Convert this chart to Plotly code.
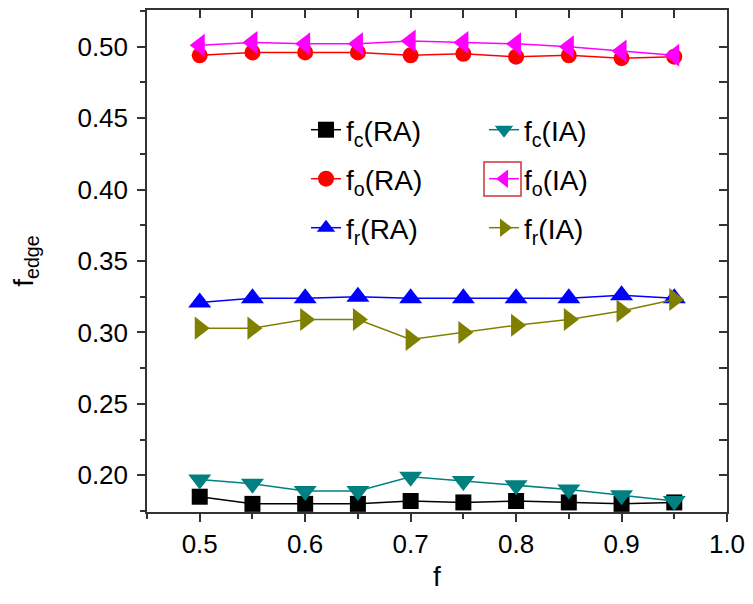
import plotly.graph_objects as go

# Fraction f on the x axis
f = [0.50, 0.55, 0.60, 0.65, 0.70, 0.75, 0.80, 0.85, 0.90, 0.95]

# Edge fractions for the RA and IA cases
fc_RA = [0.185, 0.180, 0.180, 0.180, 0.182, 0.181, 0.182, 0.181, 0.180, 0.181]
fc_IA = [0.197, 0.194, 0.189, 0.189, 0.199, 0.196, 0.193, 0.190, 0.186, 0.182]
fo_RA = [0.494, 0.496, 0.496, 0.496, 0.494, 0.495, 0.493, 0.494, 0.492, 0.493]
fo_IA = [0.501, 0.503, 0.502, 0.502, 0.504, 0.503, 0.502, 0.500, 0.497, 0.494]
fr_RA = [0.321, 0.324, 0.324, 0.325, 0.324, 0.324, 0.324, 0.324, 0.326, 0.324]
fr_IA = [0.303, 0.303, 0.309, 0.309, 0.295, 0.300, 0.305, 0.309, 0.315, 0.323]

names = ["f<sub>c</sub>(RA)", "f<sub>c</sub>(IA)",
         "f<sub>o</sub>(RA)", "f<sub>o</sub>(IA)",
         "f<sub>r</sub>(RA)", "f<sub>r</sub>(IA)"]
series = [fc_RA, fc_IA, fo_RA, fo_IA, fr_RA, fr_IA]
colors = ["#000000", "#008080", "#FF0000", "#FF00FF", "#0000FF", "#808000"]
symbols = ["square", "triangle-down", "circle", "triangle-left", "triangle-up", "triangle-right"]
sizes = [16, 20, 16, 20, 20, 20]
legends = ["legend", "legend", "legend2", "legend2", "legend3", "legend3"]

X_RANGE = [0.45, 1.0]
Y_RANGE = [0.1743, 0.5257]
FONT = "Liberation Sans, Arial, sans-serif"

fig = go.Figure()
for name, ys, c, s, sz, lg in zip(names, series, colors, symbols, sizes, legends):
    fig.add_trace(go.Scatter(
        x=f, y=ys, name=name, mode="lines+markers",
        line=dict(color=c, width=1.5),
        marker=dict(symbol=s, size=sz, color=c, line=dict(width=0)),
        legend=lg,
    ))

# Empty trace so the top/right frame axes (inward ticks) get drawn
fig.add_trace(go.Scatter(x=[], y=[], xaxis="x2", yaxis="y2",
                         showlegend=False, hoverinfo="skip"))

W, H = 753, 604
ML, MR, MT, MB = 147, 26, 10, 92
PW, PH = W - ML - MR, H - MT - MB


def px_x(px):
    return (px - ML) / PW


def px_y(py):
    return (H - MB - py) / PH


leg_common = dict(orientation="h", xanchor="left", yanchor="middle",
                  bgcolor="rgba(0,0,0,0)", borderwidth=0,
                  font=dict(family=FONT, size=28, color="black"),
                  entrywidth=133, entrywidthmode="pixels")

axis_common = dict(showgrid=False, zeroline=False, showline=True,
                   linecolor="#333333", linewidth=1.5, automargin=False,
                   tickcolor="#333333", tickwidth=1.5, ticklen=8,
                   tickfont=dict(family=FONT, size=26, color="black"))

fig.update_layout(
    width=W, height=H,
    margin=dict(l=ML, r=MR, t=MT, b=MB),
    paper_bgcolor="white", plot_bgcolor="white",
    showlegend=True,
    legend=dict(x=px_x(306), y=px_y(130), **leg_common),
    legend2=dict(x=px_x(306), y=px_y(179), **leg_common),
    legend3=dict(x=px_x(306), y=px_y(228), **leg_common),
    xaxis=dict(range=X_RANGE, dtick=0.1, tick0=0.5, ticks="outside",
               tickformat=".1f", ticklabelstandoff=0,
               minor=dict(ticks="outside", dtick=0.05, tick0=0.5, ticklen=5,
                          tickcolor="#333333", tickwidth=1.5),
               title=dict(text="f", font=dict(family=FONT, size=28, color="black"),
                          standoff=8),
               **axis_common),
    yaxis=dict(range=Y_RANGE, dtick=0.05, tick0=0.2, ticks="outside",
               tickformat=".2f", ticklabelstandoff=4,
               minor=dict(ticks="outside", dtick=0.025, tick0=0.2, ticklen=5,
                          tickcolor="#333333", tickwidth=1.5),
               title=dict(text="f<sub>edge</sub>",
                          font=dict(family=FONT, size=28, color="black"),
                          standoff=36),
               **axis_common),
    xaxis2=dict(range=X_RANGE, overlaying="x", anchor="y", side="top",
                dtick=0.05, tick0=0.5, ticks="inside", showticklabels=False,
                **axis_common),
    yaxis2=dict(range=Y_RANGE, overlaying="y", anchor="x", side="right",
                dtick=0.025, tick0=0.2, ticks="inside", showticklabels=False,
                **axis_common),
    shapes=[dict(type="rect", xref="paper", yref="paper",
                 x0=px_x(484), x1=px_x(521), y0=px_y(196), y1=px_y(162),
                 line=dict(color="#CC3333", width=1.5))],
)

fig.write_html("out.html")
